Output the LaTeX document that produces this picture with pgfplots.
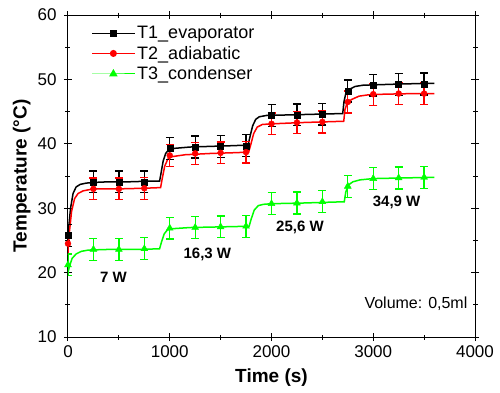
\documentclass[border=0pt]{standalone}
\usepackage{pgfplots}
\pgfplotsset{compat=1.18}
\usepackage{fontspec}
\setmainfont{Liberation Sans}
\definecolor{mygreen}{RGB}{0,255,0}
\begin{document}
\begin{tikzpicture}
\begin{axis}[
  scale only axis,
  width=407pt, height=322pt,
  xmin=0, xmax=4000, ymin=10, ymax=60,
  xtick={0,1000,2000,3000,4000},
  ytick={10,20,30,40,50,60},
  minor x tick num=1, minor y tick num=1,
  tick align=center,
  major tick length=8pt, minor tick length=5pt,
  every tick/.style={black, line width=1pt},
  axis line style={line width=1pt},
  /pgf/number format/assume math mode=true,
  /pgf/number format/1000 sep={},
  tick label style={font=\fontsize{17}{20}\selectfont},
  xticklabel style={yshift=-1pt},
  yticklabel style={xshift=-4pt},
  xlabel={\textbf{Time (s)}},
  ylabel={\textbf{Temperature (°C)}},
  label style={font=\fontsize{19}{22}\selectfont},
  xlabel style={yshift=-4pt},
  ylabel style={yshift=0pt},
  legend style={draw=none, fill=none, at={(0.05,0.978)}, anchor=north west,
    font=\fontsize{18}{21}\selectfont, row sep=2pt},
  legend cell align=left,
]
\addlegendimage{black, line width=1pt, mark=square*, mark size=3pt,
  legend image code/.code={\draw[mark repeat=2,mark phase=2] plot coordinates {(0cm,0cm) (0.75cm,0cm) (1.5cm,0cm)};}}
\addlegendentry{T1\_evaporator}
\addlegendimage{red, line width=1pt, mark=*, mark size=3pt,
  legend image code/.code={\draw[mark repeat=2,mark phase=2] plot coordinates {(0cm,0cm) (0.75cm,0cm) (1.5cm,0cm)};}}
\addlegendentry{T2\_adiabatic}
\addlegendimage{mygreen, line width=1pt, mark=triangle*, mark size=4pt,
  legend image code/.code={\draw[mark repeat=2,mark phase=2] plot coordinates {(0cm,0cm) (0.75cm,0cm) (1.5cm,0cm)};}}
\addlegendentry{T3\_condenser}

% continuous curves
\addplot[black, line width=1.5pt, forget plot] coordinates {
(0,25) (10,27.5) (25,30) (50,32.3) (80,33.3) (120,33.7) (180,33.9) (250,34.0) (400,34.1) (600,34.1) (800,34.2) (900,34.2)
(915,35.5) (935,37.3) (960,38.5) (990,39.1) (1050,39.3) (1200,39.5) (1400,39.6) (1600,39.7) (1770,39.8)
(1790,41.2) (1815,42.8) (1845,43.8) (1880,44.2) (1950,44.4) (2200,44.5) (2450,44.6) (2700,44.7)
(2712,46.5) (2730,47.8) (2760,48.4) (2820,48.9) (2900,49.1) (3100,49.2) (3300,49.3) (3600,49.4)};
\addplot[red, line width=1.5pt, forget plot] coordinates {
(0,23.5) (15,26.5) (35,29.5) (65,31.5) (100,32.3) (150,32.7) (250,33.0) (500,33.0) (750,33.1) (910,33.2)
(925,34.5) (950,36.5) (980,37.6) (1020,38.0) (1150,38.3) (1400,38.5) (1600,38.6) (1775,38.7)
(1795,39.8) (1825,41.6) (1860,42.6) (1910,43.0) (2000,43.1) (2300,43.3) (2500,43.4) (2710,43.5)
(2722,45.3) (2745,46.4) (2790,46.9) (2860,47.4) (2950,47.6) (3100,47.7) (3400,47.8) (3600,47.8)};
\addplot[mygreen, line width=1.5pt, forget plot] coordinates {
(0,20.0) (15,21.0) (40,22.2) (80,22.9) (130,23.3) (200,23.5) (400,23.6) (700,23.6) (900,23.7)
(920,24.8) (945,26.0) (975,26.6) (1010,26.8) (1200,27.0) (1500,27.1) (1780,27.2)
(1800,28.3) (1830,29.7) (1870,30.4) (1920,30.6) (2000,30.7) (2300,30.8) (2500,30.9) (2715,31.0)
(2730,32.5) (2755,33.6) (2800,34.1) (2870,34.4) (3000,34.6) (3300,34.7) (3600,34.8)};

% markers with error bars
\addplot[black, only marks, mark=square*, mark size=3pt, forget plot,
  error bars/.cd, y dir=both, y explicit,
  error bar style={draw=black, line width=1.3pt},
  error mark options={rotate=90, mark size=4pt, draw=black, line width=1.3pt}]
  coordinates {
(0,25.8) +- (0,1.7) (250,34.1) +- (0,1.7) (500,34.1) +- (0,1.7) (750,34.1) +- (0,1.7)
(1000,39.3) +- (0,1.7) (1250,39.5) +- (0,1.7) (1500,39.6) +- (0,1.7) (1750,39.7) +- (0,1.7)
(2000,44.4) +- (0,1.7) (2250,44.5) +- (0,1.7) (2500,44.6) +- (0,1.7)
(2750,48.2) +- (0,1.7) (3000,49.1) +- (0,1.7) (3250,49.2) +- (0,1.7) (3500,49.3) +- (0,1.7)};
\addplot[red, only marks, mark=*, mark size=3pt, forget plot,
  error bars/.cd, y dir=both, y explicit,
  error bar style={draw=red, line width=1.3pt},
  error mark options={rotate=90, mark size=4pt, draw=red, line width=1.3pt}]
  coordinates {
(0,24.5) +- (0,1.7) (250,33.0) +- (0,1.7) (500,33.0) +- (0,1.7) (750,33.1) +- (0,1.7)
(1000,38.2) +- (0,1.7) (1250,38.5) +- (0,1.7) (1500,38.6) +- (0,1.7) (1750,38.7) +- (0,1.7)
(2000,43.1) +- (0,1.7) (2250,43.3) +- (0,1.7) (2500,43.4) +- (0,1.7)
(2750,46.5) +- (0,1.7) (3000,47.7) +- (0,1.7) (3250,47.8) +- (0,1.7) (3500,47.8) +- (0,1.7)};
\addplot[mygreen, only marks, mark=triangle*, mark size=4pt, forget plot,
  error bars/.cd, y dir=both, y explicit,
  error bar style={draw=mygreen, line width=1.3pt},
  error mark options={rotate=90, mark size=4pt, draw=mygreen, line width=1.3pt}]
  coordinates {
(0,21.2) +- (0,1.7) (250,23.6) +- (0,1.7) (500,23.6) +- (0,1.7) (750,23.7) +- (0,1.7)
(1000,26.9) +- (0,1.7) (1250,27.0) +- (0,1.7) (1500,27.1) +- (0,1.7) (1750,27.2) +- (0,1.7)
(2000,30.7) +- (0,1.7) (2250,30.8) +- (0,1.7) (2500,31.0) +- (0,1.7)
(2750,33.4) +- (0,1.7) (3000,34.6) +- (0,1.7) (3250,34.7) +- (0,1.7) (3500,34.8) +- (0,1.7)};

\node[font=\bfseries\fontsize{15}{18}\selectfont] at (axis cs:447,19.2) {7 W};
\node[font=\bfseries\fontsize{15}{18}\selectfont] at (axis cs:1370,22.9) {16,3 W};
\node[font=\bfseries\fontsize{15}{18}\selectfont] at (axis cs:2280,27.0) {25,6 W};
\node[font=\bfseries\fontsize{15}{18}\selectfont] at (axis cs:3230,30.9) {34,9 W};
\node[font=\fontsize{16}{19}\selectfont, anchor=east] at (axis cs:3960,15.1) {Volume: 0,5ml};
\end{axis}
\path (-68pt,-55pt) (432pt,337pt);
\end{tikzpicture}
\end{document}
